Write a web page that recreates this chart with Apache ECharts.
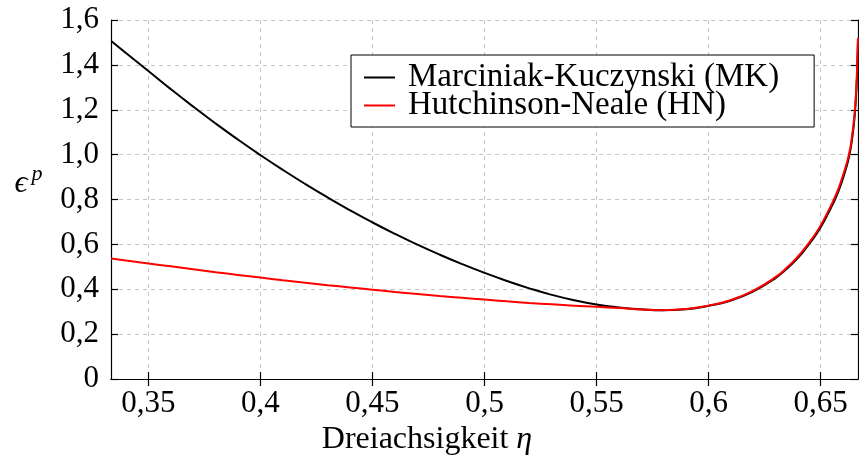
<!DOCTYPE html>
<html>
<head>
<meta charset="utf-8">
<script src="https://cdn.jsdelivr.net/npm/echarts@6/dist/echarts.min.js"></script>
<style>html,body{margin:0;padding:0;background:#fff}#c{width:859px;height:460px}</style>
</head>
<body>
<div id="c"></div>
<script>
// ---- data ----
const xTicks = [0.35, 0.4, 0.45, 0.5, 0.55, 0.6, 0.65];
const seriesNames = ['Marciniak-Kuczynski (MK)', 'Hutchinson-Neale (HN)'];

const etaMK = [0.3334, 0.34, 0.35, 0.36, 0.37, 0.38, 0.39, 0.4, 0.41, 0.42, 0.43, 0.44, 0.45, 0.46, 0.47, 0.48, 0.49, 0.5, 0.51, 0.52, 0.53, 0.54, 0.55, 0.56, 0.57, 0.5792, 0.59, 0.6, 0.61, 0.62, 0.63, 0.635, 0.64, 0.644, 0.648, 0.6513, 0.6559, 0.658, 0.6602, 0.6626, 0.6641, 0.6652, 0.666, 0.6663, 0.66666];
const epsMK = [1.506, 1.453, 1.373, 1.292, 1.214, 1.139, 1.067, 0.998, 0.932, 0.869, 0.809, 0.752, 0.698, 0.647, 0.599, 0.554, 0.512, 0.473, 0.437, 0.404, 0.375, 0.351, 0.332, 0.319, 0.3105, 0.3065, 0.311, 0.326, 0.350, 0.391, 0.451, 0.492, 0.541, 0.590, 0.644, 0.699, 0.789, 0.838, 0.902, 0.987, 1.075, 1.175, 1.30, 1.38, 1.51];

const etaHN = [0.3334, 0.34, 0.35, 0.36, 0.37, 0.38, 0.39, 0.4, 0.41, 0.42, 0.43, 0.44, 0.45, 0.46, 0.47, 0.48, 0.49, 0.5, 0.51, 0.52, 0.53, 0.54, 0.55, 0.56, 0.57, 0.5792, 0.59, 0.6, 0.61, 0.62, 0.63, 0.635, 0.64, 0.644, 0.648, 0.6513, 0.6559, 0.658, 0.6602, 0.6626, 0.6641, 0.6652, 0.666, 0.6663, 0.66666];
const epsHN = [0.537, 0.528, 0.515, 0.502, 0.489, 0.476, 0.464, 0.452, 0.440, 0.429, 0.418, 0.408, 0.398, 0.388, 0.379, 0.370, 0.362, 0.354, 0.346, 0.339, 0.333, 0.327, 0.3215, 0.316, 0.3095, 0.3065, 0.3115, 0.327, 0.352, 0.394, 0.455, 0.497, 0.547, 0.597, 0.652, 0.708, 0.800, 0.850, 0.915, 1.0, 1.09, 1.19, 1.32, 1.40, 1.52];

// ---- chart ----
const FONT = '"Liberation Serif", "DejaVu Serif", serif';
const pairs = (xs, ys) => xs.map((x, i) => [x, ys[i]]);
const fmt = v => String(+v.toFixed(4)).replace('.', ',');

const gridLine = { show: true, lineStyle: { color: '#c4c4c4', type: [4, 4], width: 1 } };
const axLine = { show: true, lineStyle: { color: '#000', width: 1.2 } };
const tick = { show: true, inside: true, length: 7, lineStyle: { color: '#000', width: 1.2 } };

const chart = echarts.init(document.getElementById('c'), null, { renderer: 'canvas' });
chart.setOption({
  animation: false,
  backgroundColor: '#fff',
  grid: { left: 111, right: 1, top: 20, bottom: 81, containLabel: false },
  xAxis: [
    {
      type: 'value', position: 'bottom', min: 1 / 3, max: 2 / 3,
      axisLine: axLine,
      axisTick: Object.assign({ customValues: xTicks }, tick),
      axisLabel: { customValues: xTicks, formatter: fmt, fontFamily: FONT, fontSize: 31, color: '#000', margin: 9 },
      splitLine: gridLine
    },
    {
      type: 'value', position: 'top', min: 1 / 3, max: 2 / 3,
      axisLine: axLine,
      axisTick: Object.assign({ customValues: xTicks }, tick),
      axisLabel: { show: false },
      splitLine: { show: false }
    }
  ],
  yAxis: [
    {
      type: 'value', position: 'left', min: 0, max: 1.6, interval: 0.2,
      axisLine: axLine, axisTick: tick,
      axisLabel: { formatter: v => (v === 0 ? '0' : v.toFixed(1).replace('.', ',')), fontFamily: FONT, fontSize: 31, color: '#000', margin: 12 },
      splitLine: gridLine
    },
    {
      type: 'value', position: 'right', min: 0, max: 1.6, interval: 0.2,
      axisLine: axLine, axisTick: tick,
      axisLabel: { show: false }, splitLine: { show: false }
    }
  ],
  legend: {
    left: 351, top: 55, orient: 'vertical',
    itemGap: -5, itemWidth: 31, itemHeight: 2, icon: 'rect',
    padding: [6, 35, 5, 13],
    borderColor: '#000', borderWidth: 1, backgroundColor: '#fff',
    textStyle: { fontFamily: FONT, fontSize: 33, color: '#000', padding: [0, 0, 0, 8] },
    data: seriesNames
  },
  series: [
    {
      name: seriesNames[0], type: 'line', data: pairs(etaMK, epsMK),
      showSymbol: false, symbol: 'none', smooth: 0.5,
      lineStyle: { color: '#000', width: 2 }, itemStyle: { color: '#000' }, z: 3
    },
    {
      name: seriesNames[1], type: 'line', data: pairs(etaHN, epsHN),
      showSymbol: false, symbol: 'none', smooth: 0.5,
      lineStyle: { color: '#ff0000', width: 2 }, itemStyle: { color: '#ff0000' }, z: 4
    }
  ],
  graphic: [
    {
      type: 'text', x: 427, y: 440,
      style: {
        text: '{n|Dreiachsigkeit }{i|η}',
        align: 'center', verticalAlign: 'middle',
        rich: {
          n: { fontFamily: FONT, fontSize: 32, fill: '#000' },
          i: { fontFamily: FONT, fontSize: 32, fontStyle: 'italic', fill: '#000' }
        }
      }
    },
    {
      type: 'text', x: 21, y: 184,
      style: { text: 'ϵ', font: 'italic 32px ' + FONT, fill: '#000', align: 'center', verticalAlign: 'middle' }
    },
    {
      type: 'text', x: 37, y: 174,
      style: { text: 'p', font: 'italic 22px ' + FONT, fill: '#000', align: 'center', verticalAlign: 'middle' }
    }
  ]
});
</script>
</body>
</html>
